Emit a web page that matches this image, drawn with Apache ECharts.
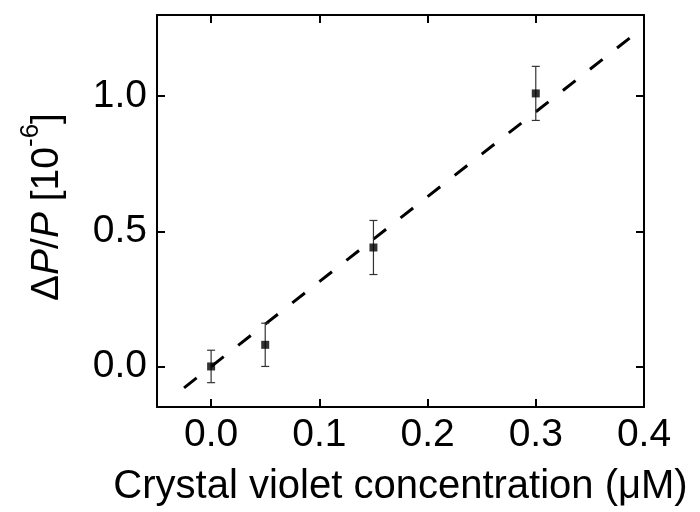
<!DOCTYPE html>
<html>
<head>
<meta charset="utf-8">
<script src="https://cdn.jsdelivr.net/npm/echarts@6/dist/echarts.min.js"></script>
<style>html,body{margin:0;padding:0;background:#fff}#c{width:700px;height:512px}</style>
</head>
<body>
<div id="c"></div>
<script>
// Data
var concX = [0.0, 0.05, 0.15, 0.30];          // crystal violet concentration (µM)
var deltaP = [0.0, 0.08, 0.44, 1.01];         // ΔP/P (10^-6)
var errP = [0.06, 0.08, 0.10, 0.10];          // error bar half-lengths
var fitX = [-0.025, 0.391];                   // dashed linear fit endpoints (x)
var fitY = [-0.079, 1.228];                   // dashed linear fit endpoints (y)
var xTicks = [0.0, 0.1, 0.2, 0.3, 0.4];
var yTicks = [0.0, 0.5, 1.0];

var FONT = '"Liberation Sans", Arial, sans-serif';
var chart = echarts.init(document.getElementById('c'), null, {renderer: 'canvas'});

var points = concX.map(function (x, i) { return [x, deltaP[i]]; });
var errData = concX.map(function (x, i) { return [x, deltaP[i] - errP[i], deltaP[i] + errP[i]]; });
var fitData = fitX.map(function (x, i) { return [x, fitY[i]]; });

var axisLine = {show: true, onZero: false, lineStyle: {color: '#000', width: 2}};
var tickStyle = {color: '#000', width: 2};

chart.setOption({
  animation: false,
  backgroundColor: '#fff',
  grid: {left: 157, right: 56, top: 15, bottom: 105, containLabel: false},
  xAxis: [{
    type: 'value', min: -0.05, max: 0.4, position: 'bottom',
    axisLine: axisLine,
    axisTick: {show: true, inside: true, length: 8, lineStyle: tickStyle, customValues: xTicks},
    axisLabel: {show: true, margin: 9, fontSize: 39, color: '#000', fontFamily: FONT,
      customValues: xTicks, formatter: function (v) { return v.toFixed(1); }},
    splitLine: {show: false},
    name: 'Crystal violet concentration (\u03BCM)',
    nameLocation: 'middle', nameGap: 60,
    nameTextStyle: {fontSize: 40, color: '#000', fontFamily: FONT}
  }, {
    type: 'value', min: -0.05, max: 0.4, position: 'top',
    axisLine: axisLine,
    axisTick: {show: true, inside: true, length: 8, lineStyle: tickStyle, customValues: xTicks},
    axisLabel: {show: false},
    splitLine: {show: false}
  }],
  yAxis: [{
    type: 'value', min: -0.15, max: 1.3, position: 'left',
    axisLine: axisLine,
    axisTick: {show: true, inside: true, length: 8, lineStyle: tickStyle, customValues: yTicks},
    axisLabel: {show: true, margin: 10, fontSize: 39, color: '#000', fontFamily: FONT,
      customValues: yTicks, formatter: function (v) { return v.toFixed(1); }},
    splitLine: {show: false},
    name: '{d|\u0394}{i|P}{d|/}{i|P}{d| [10}{s|-6}{d|]}',
    nameLocation: 'middle', nameGap: 99,
    nameTextStyle: {
      color: '#000', fontFamily: FONT, padding: [0, 0, 0, 8],
      rich: {
        d: {fontSize: 39, fontFamily: FONT, color: '#000', lineHeight: 40, padding: [18, 0, 0, 0]},
        i: {fontSize: 39, fontFamily: FONT, fontStyle: 'italic', color: '#000', lineHeight: 40, padding: [18, 0, 0, 0]},
        s: {fontSize: 26, fontFamily: FONT, color: '#000', verticalAlign: 'top', lineHeight: 24}
      }
    }
  }, {
    type: 'value', min: -0.15, max: 1.3, position: 'right',
    axisLine: axisLine,
    axisTick: {show: true, inside: true, length: 8, lineStyle: tickStyle, customValues: yTicks},
    axisLabel: {show: false},
    splitLine: {show: false}
  }],
  series: [{
    type: 'line', data: fitData, xAxisIndex: 0, yAxisIndex: 0,
    showSymbol: false, symbol: 'none', silent: true,
    lineStyle: {color: '#000', width: 3, type: [16, 18.4], cap: 'butt'},
    z: 2
  }, {
    type: 'custom', xAxisIndex: 0, yAxisIndex: 0, data: errData, silent: true, z: 3,
    renderItem: function (params, api) {
      var x = api.value(0);
      var lo = api.coord([x, api.value(1)]);
      var hi = api.coord([x, api.value(2)]);
      var hw = 4;
      var st = {stroke: '#333', lineWidth: 1.2};
      return {type: 'group', children: [
        {type: 'line', shape: {x1: lo[0], y1: lo[1], x2: hi[0], y2: hi[1]}, style: st},
        {type: 'line', shape: {x1: lo[0] - hw, y1: lo[1], x2: lo[0] + hw, y2: lo[1]}, style: st},
        {type: 'line', shape: {x1: hi[0] - hw, y1: hi[1], x2: hi[0] + hw, y2: hi[1]}, style: st}
      ]};
    }
  }, {
    type: 'scatter', data: points, xAxisIndex: 0, yAxisIndex: 0,
    symbol: 'rect', symbolSize: 8, itemStyle: {color: '#000'}, z: 4, silent: true
  }]
});
</script>
</body>
</html>
